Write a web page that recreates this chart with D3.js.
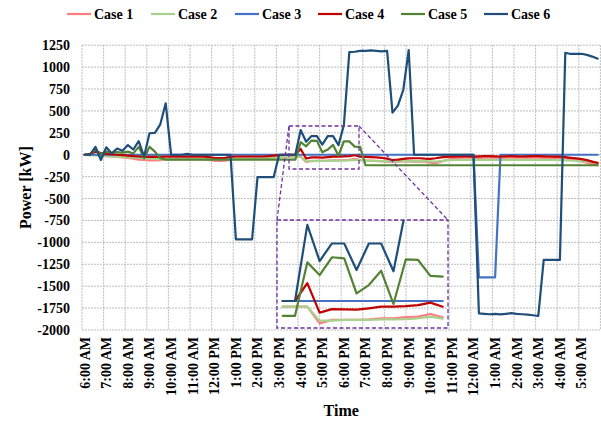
<!DOCTYPE html>
<html><head><meta charset="utf-8">
<script src="https://cdn.jsdelivr.net/npm/d3@7"></script>
<style>
body{margin:0;background:#fff}
svg{display:block}
text{font-family:"Liberation Serif","Times New Roman",serif;font-weight:bold;fill:#000}
</style>
</head><body>
<svg id="chart" width="601" height="427"></svg>
<script>
// ---- data (15-minute steps from 6:00 AM) ----
const timeLabels = ["6:00 AM","7:00 AM","8:00 AM","9:00 AM","10:00 AM","11:00 AM","12:00 PM","1:00 PM","2:00 PM","3:00 PM","4:00 PM","5:00 PM","6:00 PM","7:00 PM","8:00 PM","9:00 PM","10:00 PM","11:00 PM","12:00 AM","1:00 AM","2:00 AM","3:00 AM","4:00 AM","5:00 AM"];
const yTicks = [1250,1000,750,500,250,0,-250,-500,-750,-1000,-1250,-1500,-1750,-2000];
const seriesNames = ["Case 1","Case 2","Case 3","Case 4","Case 5","Case 6"];
const seriesColors = ["#FF7C80","#A9D18E","#4472C4","#C00000","#548235","#1F4E79"];

const case1 = [0,-5,0,-10,-15,-20,-25,-30,-35,-45,-55,-60,-65,-65,-62,
  -50,-50,-50,-50,-50,-50,-50,-50,
  -60,-68,-70,-68,-55,
  -45,-45,-45,-45,-45,-45,
  -38,-30,-25,
  -21,-21,-21,-21,
  -83,-70,-70,-70,-68,-64,-64,-60,-58,-48,-60,
  -65,-68,-70,-72,-78,-85,-80,-75,-75,-78,-80,-80,-90,-95,-80,-60,-45,-35,
  -32,-30,-32,-35,-33,-30,-32,-35,-33,-30,-32,-34,-33,-30,-32,-35,-33,-35,-38,
  -42,-50,-60,-75,-90,-105,-120];
const case2 = [0,-5,-8,-12,-15,-18,-22,-25,-28,-32,-36,-40,-44,-48,-50,
  -50,-50,-50,-50,-50,-50,-50,-50,-50,-50,-50,-50,-50,
  -45,-45,-45,-45,-45,-45,
  -38,-30,-25,
  -21,-21,-21,-21,
  -73,-73,-70,-70,-70,-68,-68,-67,-64,-58,-65,
  -68,-70,-72,-72,-75,-78,-75,-72,-72,-72,-74,-72,-75,-78,-72,-65,-62,-60,-58,-58,-58,
  -58,-57,-58,-60,-58,-57,-58,-60,-58,-57,-58,-60,-58,-58,-60,-62,
  -64,-66,-70,-74,-78,-84,-90];
const case3 = [0,0,0,0,0,0,0,0,0,0,0,0,0,0,0,0,0,0,0,0,0,0,0,0,
  0,0,0,0,0,0,0,0,0,0,0,0,0,0,0,0,0,0,0,0,0,0,0,0,
  0,0,0,0,0,0,0,0,0,0,0,0,0,0,0,0,0,0,0,0,0,0,0,0,
  0,-1400,-1400,-1400,-1400,0,0,0,0,0,0,0,0,0,0,0,0,0,0,0,0,0,0,0];
const case4 = [0,10,35,20,10,5,0,-5,-10,-15,-20,-25,-25,-25,-25,
  -22,-22,-22,-22,-22,-22,-22,-22,
  -28,-35,-38,-35,-25,
  -20,-20,-20,-20,-20,-20,
  -15,-10,-5,0,0,0,
  66,-43,-30,-31,-32,-27,-21,-21,-19,-15,-6,-21,
  -25,-28,-30,-35,-45,-60,-55,-48,-42,-40,-40,-45,-48,-40,-30,-25,-22,-20,-20,-20,-22,
  -18,-15,-15,-18,-20,-18,-15,-18,-20,-18,-15,-15,-18,-20,-22,-20,
  -28,-35,-42,-50,-62,-78,-95];
const case5 = [0,0,60,5,35,20,30,25,35,15,90,-40,90,35,-40,
  -55,-55,-55,-55,-55,-55,-55,-55,-55,-55,-55,-55,-55,-55,-55,-55,-55,-55,-55,-55,-55,-55,-55,-55,-55,
  143,96,162,158,28,59,112,-11,154,152,93,90,
  -120,-120,-120,-120,-120,-120,-120,-120,-120,-120,-120,-120,-120,-120,-120,-120,-120,-120,-120,-120,-120,-120,
  -120,-120,-120,-120,-120,-120,-120,-120,-120,-120,-120,-120,-120,-120,-120,-120,-120,-120,-120,-120,-120,-120];
const case6 = [0,0,90,-60,85,15,70,45,110,60,155,-20,245,250,347,587,0,
  0,0,10,0,0,0,0,0,0,0,0,
  -966,-966,-966,-966,
  -255,-255,-255,-255,
  0,0,0,0,
  282,148,213,213,115,213,213,110,340,
  1170,1175,1185,1185,1190,1185,1180,1185,
  480,560,740,1195,
  0,0,0,0,0,0,0,0,0,0,0,0,
  -1810,-1815,-1820,-1815,-1822,-1815,-1808,-1815,-1820,-1825,-1832,-1840,
  -1200,-1200,-1200,-1200,
  1164,1150,1150,1152,1140,1120,1096];
const allSeries = [case1,case2,case3,case4,case5,case6];
const insetStart = 38, insetEnd = 51;

// ---- chart ----
const svg = d3.select("#chart");
const L = 82, R = 600.4, T = 45.2, B = 330;
const idx = d3.range(case6.length);
const x = d3.scaleBand().domain(idx).range([L, R]);
const xc = i => x(i) + x.bandwidth()/2;
const y = d3.scaleLinear().domain([-2000,1250]).range([B, T]);

// grid
const grid = svg.append("g");
grid.selectAll("line.h").data(yTicks).join("line")
  .attr("x1", L).attr("x2", R).attr("y1", d=>y(d)).attr("y2", d=>y(d))
  .attr("stroke","#bdbdbd").attr("stroke-width",1).attr("stroke-dasharray","2,1");
const vGrid = d3.range(0, case6.length + 1, 4);
grid.selectAll("line.v").data(vGrid).join("line")
  .attr("x1", d => d < case6.length ? x(d) : R).attr("x2", d => d < case6.length ? x(d) : R)
  .attr("y1", T).attr("y2", B)
  .attr("stroke","#bdbdbd").attr("stroke-width",1).attr("stroke-dasharray","2,1");

// y axis
const yAxis = svg.append("g").attr("transform",`translate(${L},0)`)
  .call(d3.axisLeft(y).tickValues(yTicks).tickFormat(d => String(d)).tickSize(0).tickPadding(12));
yAxis.select(".domain").remove();
yAxis.selectAll("text").style("font-family",'"Liberation Serif",serif').style("font-weight","bold").style("font-size","14px").attr("fill","#000");

// x axis
const xAxis = svg.append("g").attr("transform",`translate(0,${B})`)
  .call(d3.axisBottom(x).tickValues(d3.range(0, case6.length, 4)).tickFormat(i => timeLabels[i/4]).tickSize(0));
xAxis.select(".domain").remove();
xAxis.selectAll("text")
  .style("font-family",'"Liberation Serif",serif').style("font-weight","bold").style("font-size","14px").attr("fill","#000")
  .attr("transform","rotate(-90)").attr("text-anchor","end")
  .attr("x",-7).attr("y",0).attr("dy","0.35em");

// titles
svg.append("text").attr("transform",`translate(25,${(T+B)/2}) rotate(-90)`)
  .attr("text-anchor","middle").attr("dy","0.35em").style("font-size","16px").text("Power [kW]");
svg.append("text").attr("x",(L+R)/2).attr("y",416).attr("text-anchor","middle").style("font-size","16px").text("Time");

// lines
const line = d3.line().x((d,i)=>xc(i)).y(d=>y(d));
svg.append("g").selectAll("path").data(allSeries).join("path")
  .attr("d", d=>line(d)).attr("fill","none")
  .attr("stroke",(d,i)=>seriesColors[i]).attr("stroke-width",2.2)
  .attr("stroke-linejoin","round").attr("stroke-linecap","round");

// legend
const legendX = [67,151,235,318,401,484];
const lg = svg.append("g");
seriesNames.forEach((n,i)=>{
  lg.append("line").attr("x1",legendX[i]).attr("x2",legendX[i]+24).attr("y1",14).attr("y2",14)
    .attr("stroke",seriesColors[i]).attr("stroke-width",2.2);
  lg.append("text").attr("x",legendX[i]+27).attr("y",14).attr("dy","0.35em").style("font-size","14px").text(n);
});

// inset (zoom of 3:30 PM - 6:45 PM)
const purple = "#7030A0";
const small = {x0:289,y0:126,x1:359,y1:169};
const big = {x0:277,y0:220,x1:448,y1:328};
const zoomG = svg.append("g").attr("fill","none").attr("stroke",purple).attr("stroke-width",1.3).attr("stroke-dasharray","4,2.5");
zoomG.append("rect").attr("x",small.x0).attr("y",small.y0).attr("width",small.x1-small.x0).attr("height",small.y1-small.y0);
zoomG.append("line").attr("x1",small.x0).attr("y1",small.y0).attr("x2",big.x0).attr("y2",big.y0);
zoomG.append("line").attr("x1",small.x1).attr("y1",small.y0).attr("x2",big.x1).attr("y2",big.y0);

svg.append("clipPath").attr("id","insetClip").append("rect")
  .attr("x",big.x0).attr("y",big.y0).attr("width",big.x1-big.x0).attr("height",big.y1-big.y0);
const xi = d3.scaleLinear().domain([insetStart, insetEnd]).range([282.7, 442.7]);
const yi = d3.scaleLinear().domain([-100, 300]).range([328, 220]);
const insetIdx = d3.range(insetStart, insetEnd + 1);
const iline = d3.line().x(i=>xi(i));
svg.append("g").attr("clip-path","url(#insetClip)").selectAll("path").data(allSeries).join("path")
  .attr("d", s => iline.y(i=>yi(s[i]))(insetIdx)).attr("fill","none")
  .attr("stroke",(d,i)=>seriesColors[i]).attr("stroke-width",2.2)
  .attr("stroke-linejoin","round").attr("stroke-linecap","round");
zoomG.append("rect").attr("x",big.x0).attr("y",big.y0).attr("width",big.x1-big.x0).attr("height",big.y1-big.y0);
</script>
</body></html>
